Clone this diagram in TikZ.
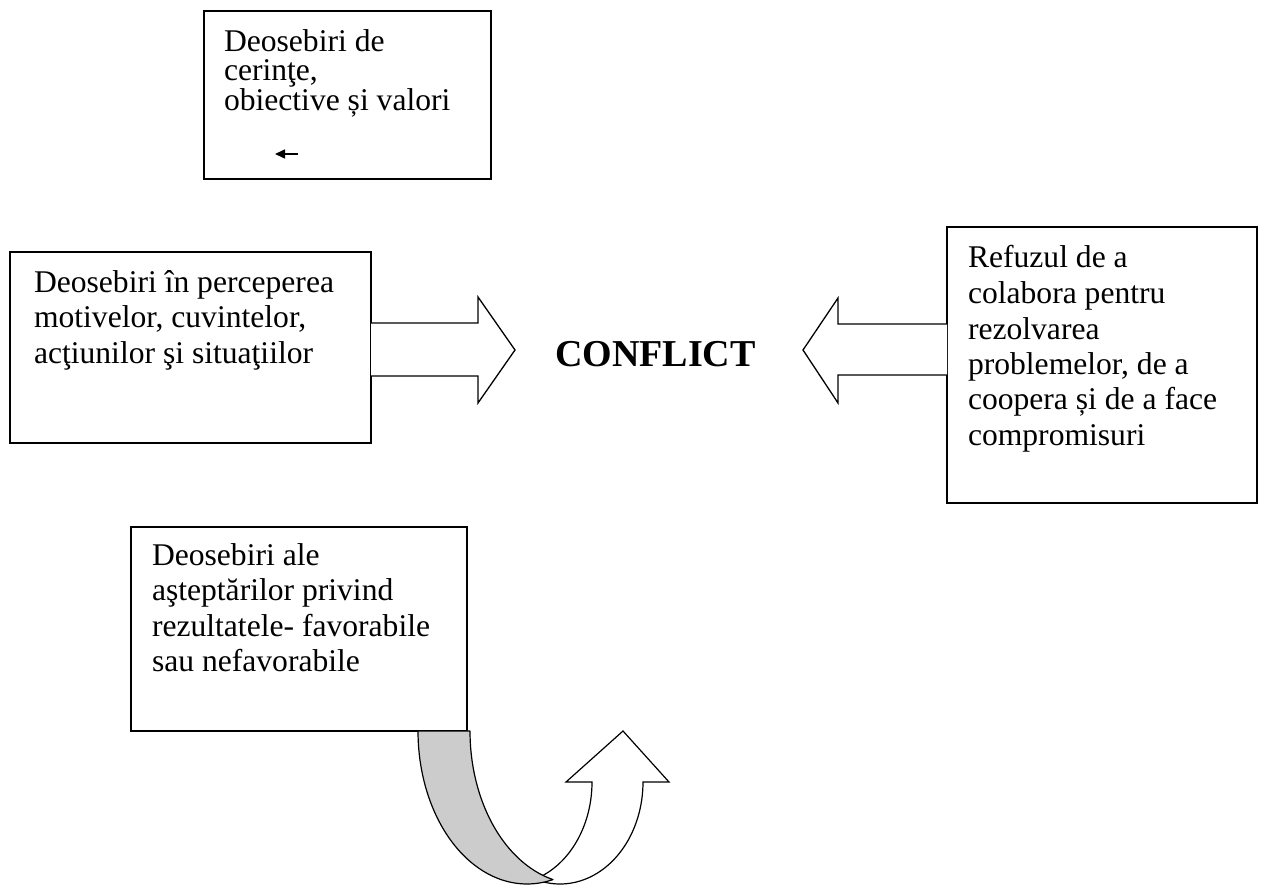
\documentclass[tikz,border=0pt]{standalone}
\usepackage{fontspec}
\setmainfont{Liberation Serif}
\usetikzlibrary{arrows.meta}
\begin{document}
\begin{tikzpicture}[x=1pt,y=-1pt,
  box/.style={draw, line width=1.5pt, rectangle, inner sep=0pt, outer sep=0pt, anchor=north west},
  txt/.style={anchor=base west, inner sep=0pt, outer sep=0pt},
  blockarrow/.style={draw, line width=1.3pt, line join=miter, fill=white},
  bandfront/.style={draw, line width=1.2pt, fill=black!20, line join=round},
  bandback/.style={draw, line width=1.2pt, fill=white, line join=miter}
]
\useasboundingbox (0,0) rectangle (1268,885);
\newcommand{\bodyfont}{\fontsize{31.6}{35.5}\selectfont}

% top box
\node[box, minimum width=287pt, minimum height=168pt] (b1) at (204,11) {};
\node[txt] (t1) at (224,52) {\parbox[t]{280pt}{\fontsize{31.6}{28.5}\selectfont\raggedright Deosebiri de\\cerinţe,\\obiective și valori}};
\coordinate (sa) at (298,154);
\coordinate (sb) at (275,154);
\draw[line width=1.6pt, -{Triangle[length=10pt,width=9pt]}] (sa) -- (sb);

% left box
\node[box, minimum width=361pt, minimum height=191pt] (b2) at (10,252) {};
\node[txt] (t2) at (34,292) {\parbox[t]{340pt}{\bodyfont\raggedright Deosebiri în perceperea\\motivelor, cuvintelor,\\acţiunilor şi situaţiilor}};

% right box
\node[box, minimum width=310pt, minimum height=276pt] (b3) at (947,227) {};
\node[txt] (t3) at (968,268) {\parbox[t]{290pt}{\bodyfont\raggedright Refuzul de a\\colabora pentru\\rezolvarea\\problemelor, de a\\coopera și de a face\\compromisuri}};

% bottom box
\node[box, minimum width=336pt, minimum height=204pt] (b4) at (131,527) {};
\node[txt] (t4) at (152,565) {\parbox[t]{320pt}{\bodyfont\raggedright Deosebiri ale\\aşteptărilor privind\\rezultatele- favorabile\\sau nefavorabile}};

% CONFLICT
\node[txt, font=\fontsize{38}{38}\selectfont\bfseries] (conf) at (555,366) {CONFLICT};

% block arrow from left box
\draw[blockarrow] (b2.east |- 0,323) -- (478,323) -- (478,297) -- (515,350) -- (478,403) -- (478,376) -- (b2.east |- 0,376);
% block arrow from right box
\draw[blockarrow] (b3.west |- 0,324) -- (838,324) -- (838,298) -- (803,350) -- (838,403) -- (838,375) -- (b3.west |- 0,375);

% curved up arrow
\begin{scope}
\clip (0,0) rectangle (1268,885);
\draw[bandback] (566,782) -- (623,731) -- (669,782) -- (643,782)
  -- plot[domain=360:252.5, samples=50] ({560+83*cos(\x)},{782-102*sin(\x)})
  -- plot[domain=287.8:360, samples=50] ({510+82*cos(\x)},{782-102*sin(\x)}) -- cycle;
\draw[bandfront] (418,731) -- (470,731)
  -- plot[domain=180:256.2, samples=50] ({579+109*cos(\x)},{731-153*sin(\x)})
  -- plot[domain=283.8:180, samples=50] ({527+109*cos(\x)},{731-153*sin(\x)}) -- cycle;
\end{scope}
\end{tikzpicture}
\end{document}
